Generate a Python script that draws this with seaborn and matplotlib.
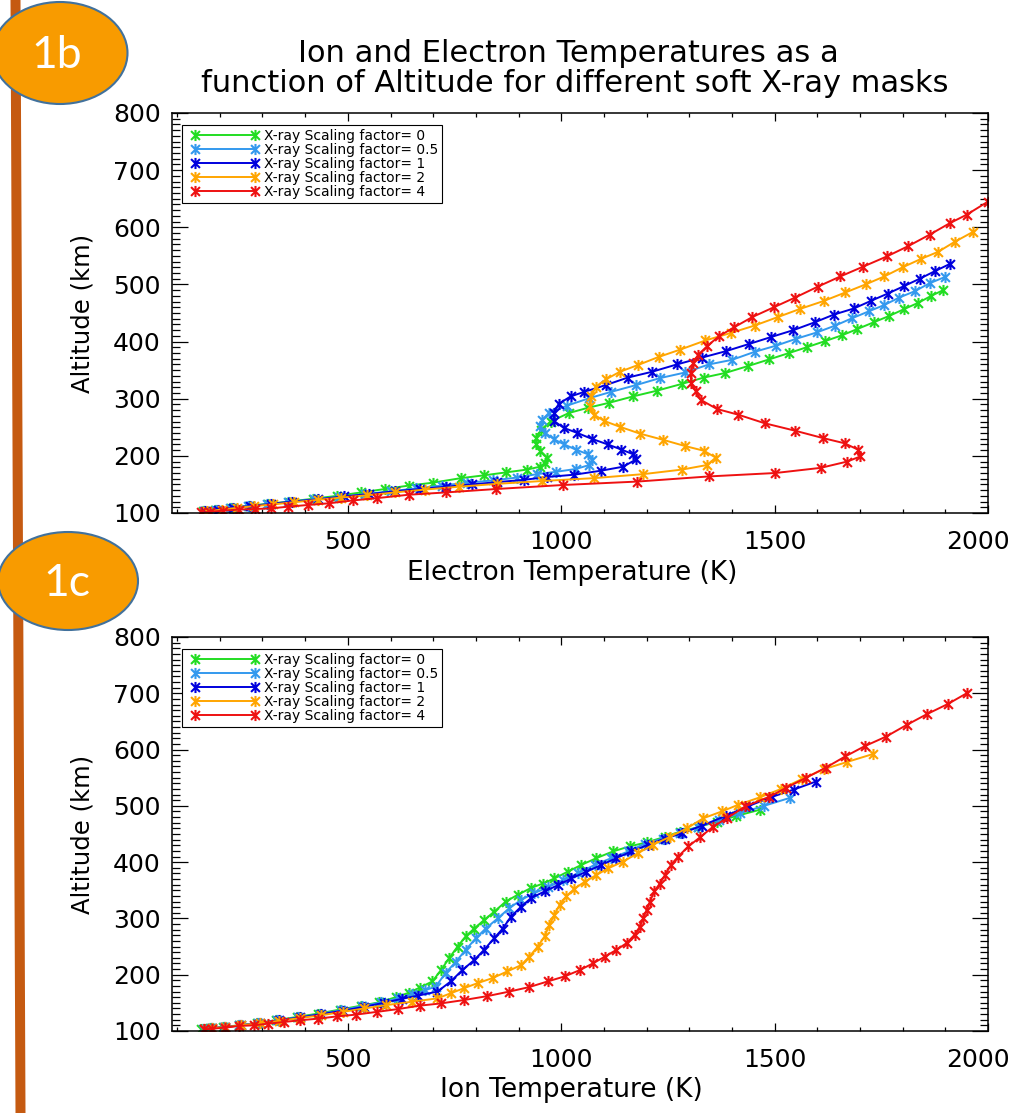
import matplotlib
matplotlib.use("Agg")
import matplotlib.pyplot as plt
from matplotlib.path import Path
from matplotlib.patches import Ellipse
from matplotlib.lines import Line2D
from matplotlib.legend_handler import HandlerLine2D
from matplotlib.ticker import MultipleLocator, FixedLocator
from matplotlib.transforms import ScaledTranslation
import seaborn as sns

# ---------------- data ----------------
labels = ['X-ray Scaling factor= 0', 'X-ray Scaling factor= 0.5',
          'X-ray Scaling factor= 1', 'X-ray Scaling factor= 2',
          'X-ray Scaling factor= 4']
colors = ['#22dd22', '#3399ee', '#0000dd', '#ffa500', '#ee1111']

# Electron temperature (K) vs altitude (km)
te_alt_0 = [103, 106, 109, 113, 116, 120, 125, 130, 136, 142, 148, 153, 161, 166, 171, 176, 181, 188, 197, 209,
            220, 232, 246, 260, 275, 284, 293, 304, 314, 326, 337, 345, 357, 369, 380, 390, 401, 411, 422, 434,
            445, 457, 468, 480, 490]
te_0 = [160, 188, 226, 269, 313, 363, 419, 475, 531, 587, 643, 699, 765, 820, 870, 920, 950, 963, 967, 951,
        941, 942, 953, 975, 1018, 1062, 1113, 1168, 1224, 1283, 1334, 1384, 1437, 1488, 1534, 1575, 1619, 1658,
        1694, 1733, 1769, 1804, 1837, 1867, 1895]

te_alt_05 = [103, 106, 109, 112, 115, 119, 124, 128, 133, 138, 143, 148, 153, 157, 162, 168, 172, 177, 184, 193,
             203, 211, 220, 229, 240, 252, 263, 275, 288, 301, 312, 324, 336, 346, 360, 368, 382, 393, 405, 416,
             428, 441, 453, 464, 477, 488, 502, 513]
te_05 = [162, 190, 225, 265, 310, 360, 420, 480, 540, 600, 660, 720, 780, 840, 896, 943, 987, 1034, 1066, 1073,
         1062, 1034, 1007, 983, 963, 951, 955, 971, 1014, 1066, 1117, 1176, 1231, 1291, 1346, 1400, 1453, 1504,
         1551, 1599, 1642, 1682, 1721, 1757, 1792, 1828, 1863, 1899]

te_alt_1 = [103, 106, 109, 112, 116, 120, 124, 129, 133, 138, 142, 146, 150, 154, 158, 163, 167, 174, 181, 194,
            203, 211, 220, 230, 240, 249, 261, 275, 291, 304, 312, 324, 337, 347, 360, 372, 383, 396, 408, 420,
            434, 447, 458, 471, 484, 497, 510, 523, 536]
te_1 = [165, 195, 230, 270, 320, 370, 430, 490, 550, 610, 670, 730, 790, 850, 912, 967, 1030, 1093, 1145, 1176,
        1168, 1141, 1109, 1071, 1038, 1006, 983, 983, 994, 1022, 1054, 1105, 1156, 1212, 1271, 1330, 1385, 1441,
        1492, 1544, 1595, 1638, 1686, 1725, 1765, 1803, 1840, 1875, 1911]

te_alt_2 = [103, 106, 109, 112, 115, 119, 123, 127, 131, 136, 141, 146, 151, 156, 161, 168, 176, 184, 197, 209,
            217, 228, 239, 251, 261, 272, 287, 304, 321, 334, 347, 359, 373, 386, 402, 415, 428, 443, 457, 471,
            486, 500, 514, 530, 545, 557, 575, 592]
te_2 = [170, 205, 240, 280, 325, 375, 430, 485, 545, 610, 680, 760, 850, 955, 1077, 1192, 1283, 1342, 1362, 1334,
        1291, 1239, 1184, 1137, 1101, 1077, 1068, 1070, 1081, 1105, 1137, 1180, 1228, 1279, 1338, 1397, 1453,
        1508, 1559, 1615, 1666, 1713, 1757, 1800, 1844, 1883, 1923, 1965]

te_alt_4 = [101, 102, 104, 106, 107, 108, 111, 114, 117, 122, 126, 132, 136, 142, 149, 155, 164, 170, 179, 190,
            199, 211, 222, 231, 244, 257, 272, 282, 298, 313, 327, 345, 362, 377, 392, 409, 425, 443, 460, 477,
            496, 514, 531, 549, 567, 587, 607, 622, 645, 665, 685, 700]
te_4 = [157, 176, 207, 244, 282, 319, 359, 406, 456, 512, 568, 643, 730, 848, 1004, 1178, 1346, 1502, 1608, 1670,
        1701, 1695, 1664, 1614, 1548, 1477, 1415, 1365, 1327, 1315, 1305, 1303, 1309, 1321, 1342, 1369, 1405,
        1448, 1498, 1548, 1601, 1654, 1707, 1763, 1813, 1863, 1910, 1950, 2000, 2045, 2090, 2130]

# Ion temperature (K) vs altitude (km)
ti_alt_0 = [103, 105, 107, 110, 114, 119, 125, 131, 138, 145, 151, 160, 168, 177, 188, 208, 229, 250, 268, 282,
            297, 312, 330, 342, 354, 362, 371, 383, 395, 407, 419, 428, 435, 445, 454, 462, 472, 482, 493]
ti_0 = [157, 176, 207, 244, 288, 331, 381, 431, 481, 531, 574, 612, 643, 668, 698, 718, 737, 757, 776, 796,
        819, 843, 870, 898, 929, 957, 984, 1015, 1047, 1082, 1121, 1160, 1200, 1243, 1278, 1320, 1365, 1410, 1465]

ti_alt_05 = [103, 105, 107, 110, 114, 119, 124, 130, 137, 144, 151, 158, 165, 172, 179, 203, 223, 244, 265, 282,
             300, 318, 333, 345, 355, 368, 380, 395, 407, 419, 433, 442, 451, 462, 475, 487, 500, 514]
ti_05 = [160, 180, 210, 246, 290, 334, 384, 434, 484, 534, 578, 618, 650, 680, 706, 729, 753, 776, 800, 823,
         851, 878, 906, 937, 968, 1004, 1039, 1078, 1117, 1157, 1196, 1239, 1278, 1320, 1370, 1420, 1475, 1535]

ti_alt_1 = [103, 105, 107, 110, 114, 119, 124, 130, 136, 143, 150, 157, 163, 170, 188, 208, 226, 244, 265, 282,
            303, 321, 336, 348, 359, 371, 383, 395, 407, 419, 431, 442, 451, 465, 482, 500, 516, 529, 543]
ti_1 = [162, 182, 213, 250, 294, 338, 388, 438, 488, 538, 584, 626, 665, 710, 741, 768, 796, 819, 843, 863,
        882, 906, 929, 961, 992, 1023, 1059, 1094, 1129, 1164, 1204, 1243, 1282, 1330, 1385, 1440, 1494, 1545, 1596]

ti_alt_2 = [103, 105, 107, 110, 114, 118, 123, 128, 134, 140, 146, 152, 158, 167, 176, 185, 194, 206, 217, 232,
            250, 268, 288, 306, 324, 339, 353, 365, 377, 389, 401, 416, 431, 445, 460, 478, 490, 502, 515, 530,
            548, 565, 578, 592]
ti_2 = [162, 182, 213, 250, 294, 338, 388, 438, 488, 538, 590, 650, 710, 741, 772, 804, 839, 874, 906, 925,
        945, 961, 972, 984, 996, 1012, 1031, 1055, 1082, 1110, 1145, 1180, 1215, 1255, 1294, 1333, 1376, 1415,
        1465, 1515, 1565, 1615, 1670, 1730]

ti_alt_4 = [103, 104, 106, 109, 110, 113, 116, 119, 122, 126, 129, 134, 139, 145, 149, 155, 162, 170, 178, 188,
            197, 208, 220, 232, 244, 256, 271, 285, 300, 315, 330, 348, 362, 377, 395, 410, 428, 444, 463, 478,
            499, 516, 532, 550, 568, 588, 606, 623, 644, 663, 681, 700]
ti_4 = [163, 182, 213, 244, 279, 313, 350, 387, 431, 475, 518, 568, 618, 668, 718, 772, 827, 878, 925, 968,
        1008, 1043, 1074, 1102, 1129, 1153, 1172, 1184, 1192, 1200, 1208, 1218, 1231, 1243, 1257, 1274, 1298,
        1325, 1356, 1388, 1431, 1487, 1527, 1574, 1620, 1666, 1711, 1761, 1810, 1857, 1906, 1950]

x_major_ticks = [500, 1000, 1500, 2000]
title_lines = ['Ion and Electron Temperatures as a',
               'function of Altitude for different soft X-ray masks']
x_labels = ['Electron Temperature (K)', 'Ion Temperature (K)']
y_label = 'Altitude (km)'
badges = ['1b', '1c']

# ---------------- style ----------------
sns.set_style('ticks')
plt.rcParams['font.family'] = ['DejaVu Sans']
plt.rcParams.update({'text.color': 'black', 'axes.labelcolor': 'black',
                     'xtick.color': 'black', 'ytick.color': 'black',
                     'axes.edgecolor': 'black'})

W, H = 1011, 1113
fig = plt.figure(figsize=(W / 100, H / 100), dpi=100)
fig.patch.set_facecolor('white')

ast = Path([(0, -1), (0, 1), (-0.8, -0.8), (0.8, 0.8), (-0.8, 0.8), (0.8, -0.8)],
           [Path.MOVETO, Path.LINETO, Path.MOVETO, Path.LINETO, Path.MOVETO, Path.LINETO])

ax1 = fig.add_axes([172 / W, 1 - 513 / H, 816 / W, 400 / H])
ax2 = fig.add_axes([172 / W, 1 - 1031 / H, 816 / W, 394 / H])

te_sets = [(te_0, te_alt_0), (te_05, te_alt_05), (te_1, te_alt_1), (te_2, te_alt_2), (te_4, te_alt_4)]
ti_sets = [(ti_0, ti_alt_0), (ti_05, ti_alt_05), (ti_1, ti_alt_1), (ti_2, ti_alt_2), (ti_4, ti_alt_4)]

for ax, sets, xl in [(ax1, te_sets, x_labels[0]), (ax2, ti_sets, x_labels[1])]:
    for (t, a), c, lab in zip(sets, colors, labels):
        sns.lineplot(x=t, y=a, ax=ax, sort=False, estimator=None, color=c,
                     linewidth=1.4, marker=ast, markersize=8, markeredgewidth=1.5,
                     markeredgecolor=c, markerfacecolor='none', label=lab)
    ax.set_xlim(88, 2000)
    ax.set_ylim(100, 800)
    ax.xaxis.set_major_locator(FixedLocator(x_major_ticks))
    ax.xaxis.set_minor_locator(MultipleLocator(100))
    ax.yaxis.set_major_locator(MultipleLocator(100))
    ax.yaxis.set_minor_locator(MultipleLocator(10))
    ax.tick_params(axis='x', which='major', direction='in', length=5.8, width=0.9,
                   top=True, labelsize=18, pad=12)
    ax.tick_params(axis='x', which='minor', direction='in', length=2.9, width=0.9, top=True)
    ax.tick_params(axis='y', which='major', direction='in', length=11.5, width=0.9,
                   right=True, labelsize=18, pad=8)
    ax.tick_params(axis='y', which='minor', direction='in', length=5.8, width=0.9, right=True)
    for s in ax.spines.values():
        s.set_visible(True)
        s.set_linewidth(1.1)
        s.set_color('black')
    # shift the last x tick label a little left, as in the original
    last = ax.xaxis.get_major_ticks()[-1]
    last.label1.set_transform(last.label1.get_transform() +
                              ScaledTranslation(-10 / 100, 0, fig.dpi_scale_trans))
    ax.set_xlabel(xl, fontsize=19)
    ax.set_ylabel(y_label, fontsize=17.5)
    ax.xaxis.set_label_coords(0.49, -0.15)
    ax.xaxis.label.set_va('center')
    ax.yaxis.set_label_coords(-0.110, 0.5)
    ax.yaxis.label.set_va('center')
    handles, labs = ax.get_legend_handles_labels()
    leg = ax.legend(handles, labs, loc='upper left', bbox_to_anchor=(10 / 816, 1 - 12 / 400),
                    borderaxespad=0, fontsize=10, frameon=True, fancybox=False,
                    edgecolor='black', framealpha=1, borderpad=0.3, labelspacing=0.0,
                    handlelength=5.25, handletextpad=0.35,
                    handler_map={Line2D: HandlerLine2D(numpoints=2, xpad=0.33)})
    leg.get_frame().set_linewidth(0.8)

# Title
fig.text(568 / W, 1 - 62 / H, title_lines[0], ha='center', va='baseline', fontsize=22)
fig.text(575 / W, 1 - 92 / H, title_lines[1], ha='center', va='baseline', fontsize=22)

# Brown slide bar on the left
fig.add_artist(Line2D([15.5 / W, 20.5 / W], [1, 0], transform=fig.transFigure,
                      color='#c55a11', linewidth=7.2, zorder=1))

# Badges
for (cx, cy, ew, eh, tx, ty), txt in zip([(60, 53, 135, 102, 57, 55), (68, 581, 140, 98, 67, 584)], badges):
    e = Ellipse((cx / W, 1 - cy / H), ew / W, eh / H, transform=fig.transFigure,
                facecolor='#f89b00', edgecolor='#41719c', linewidth=1.5, zorder=5)
    fig.add_artist(e)
    fig.text(tx / W, 1 - ty / H, txt, ha='center', va='center', fontsize=32,
             color='white', family=['Lato', 'DejaVu Sans'], zorder=6)

fig.savefig('out.png', dpi=100, facecolor='white')
